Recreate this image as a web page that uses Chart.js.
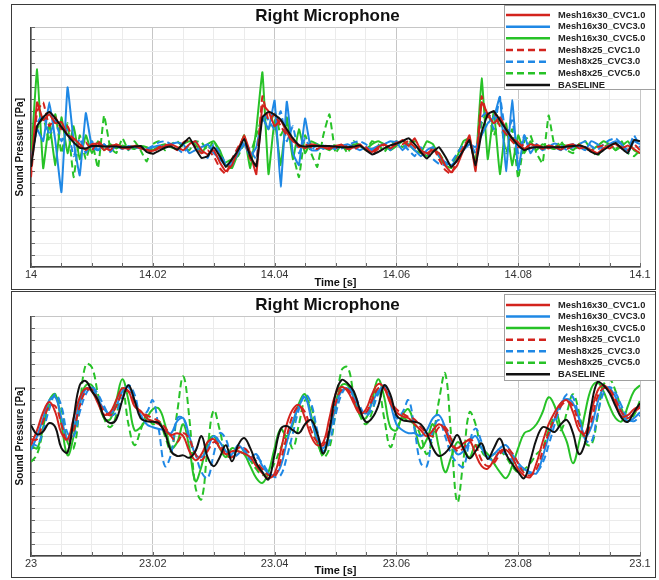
<!DOCTYPE html>
<html>
<head>
<meta charset="utf-8">
<script src="https://cdn.jsdelivr.net/npm/chart.js@4.4.1/dist/chart.umd.min.js"></script>
<style>
  body { margin: 0; background: #fff; }
  #wrap { position: relative; width: 659px; height: 580px; }
  .frame { position: absolute; border: 1px solid #3a3a3a; box-sizing: border-box; }
  canvas { position: absolute; }
</style>
</head>
<body>
<div id="wrap">
  <div class="frame" style="left:11px;top:4px;width:645px;height:286px"></div>
  <div class="frame" style="left:11px;top:291px;width:645px;height:287px"></div>
  <canvas id="topChart" width="643" height="283" style="left:12px;top:5px"></canvas>
  <canvas id="bottomChart" width="643" height="284" style="left:12px;top:292px"></canvas>
</div>
<script>
const FONT = '"Liberation Sans", Arial, Helvetica, sans-serif';

// series (same order in both panels)
const seriesNames = ['Mesh16x30_CVC1.0', 'Mesh16x30_CVC3.0', 'Mesh16x30_CVC5.0',
                     'Mesh8x25_CVC1.0', 'Mesh8x25_CVC3.0', 'Mesh8x25_CVC5.0', 'BASELINE'];
const seriesColors = ['#d3231d', '#1f88e5', '#27c227', '#d3231d', '#1f88e5', '#27c227', '#111111'];
const seriesDashed = [false, false, false, true, true, true, false];
const seriesOrder = [1, 3, 5, 2, 4, 6, 0];

// x tick labels
const topTickValues = [14, 14.02, 14.04, 14.06, 14.08, 14.1];
const topTickLabels = ['14', '14.02', '14.04', '14.06', '14.08', '14.1'];
const bottomTickValues = [23, 23.02, 23.04, 23.06, 23.08, 23.1];
const bottomTickLabels = ['23', '23.02', '23.04', '23.06', '23.08', '23.1'];
const yMajors = [-2, -1, 0, 1, 2];

// sample times (1 ms apart)
const topTimes = [];
const bottomTimes = [];
for (let i = 0; i <= 100; i++) {
    topTimes.push(+(14 + i * 0.001).toFixed(3));
    bottomTimes.push(+(23 + i * 0.001).toFixed(3));
}

// ---- top panel (14.0 - 14.1 s) ----
const topRed1 = [
    -0.4, 0.75, 0.45, 0.55, 0.4, 0.42, 0.2, 0.15, 0.05, -0.05,
    0.05, 0.06, -0.05, 0.02, 0.04, -0.02, 0.0, 0.02, -0.02, -0.05,
    -0.06, -0.02, 0.02, 0.05, 0.0, -0.05, 0.05, 0.1, -0.05, -0.12,
    -0.05, -0.25, -0.4, -0.3, -0.05, 0.2, -0.1, -0.45, 0.7, 0.6,
    0.35, 0.45, 0.25, 0.1, 0.04, -0.02, 0.05, 0.03, 0.0, -0.03,
    0.02, 0.04, -0.03, 0.0, 0.05, -0.05, -0.08, 0.0, 0.05, -0.02,
    0.05, 0.12, 0.02, 0.15, -0.05, -0.1, -0.05, -0.1, -0.3, -0.42,
    -0.3, -0.05, 0.2, -0.4, 0.75, 0.55, 0.4, 0.5, 0.3, 0.15,
    0.08, -0.03, 0.05, 0.02, -0.03, 0.03, 0.0, -0.04, 0.03, 0.05,
    -0.02, 0.0, -0.05, -0.1, -0.02, 0.03, 0.05, -0.02, 0.03, -0.03,
    -0.1];
const topBlue1 = [
    -0.2, 0.3, 0.1, 0.75, 0.1, -0.75, 1.0, 0.1, -0.47, 0.57,
    0.0, -0.05, 0.05, -0.05, 0.02, -0.03, 0.02, 0.0, -0.02, -0.04,
    0.0, 0.03, 0.0, 0.05, 0.08, 0.05, -0.1, -0.05, 0.0, 0.05,
    -0.1, -0.2, -0.3, -0.25, -0.1, 0.05, -0.15, 0.0, 0.5, 0.3,
    0.78, -0.66, 0.76, -0.1, -0.3, 0.48, -0.05, -0.05, 0.03, 0.0,
    -0.03, 0.02, 0.05, 0.0, -0.05, 0.0, -0.03, 0.02, 0.05, 0.1,
    0.08, -0.05, 0.05, -0.05, -0.15, -0.05, 0.0, -0.15, -0.25, -0.3,
    -0.2, -0.05, 0.05, 0.0, 0.2, 0.4, 0.5, 0.84, -0.4, 0.79,
    -0.38, 0.2, -0.1, 0.05, -0.05, 0.03, 0.0, -0.05, 0.02, 0.05,
    0.0, -0.05, 0.1, 0.05, -0.03, 0.05, 0.1, 0.05, -0.1, 0.1,
    0.05];
const topGreen1 = [
    -0.2, 1.3, -0.35, 0.4, -0.3, 0.5, -0.1, 0.35, -0.2, 0.2,
    -0.1, 0.1, -0.05, 0.05, -0.02, 0.03, 0.0, -0.03, 0.02, 0.0,
    -0.05, 0.02, 0.05, 0.0, -0.03, 0.05, 0.1, 0.05, -0.1, 0.05,
    0.1, -0.05, -0.3, -0.35, -0.1, 0.2, -0.35, 0.3, 1.25, -0.45,
    0.45, -0.3, 0.5, -0.2, 0.3, -0.1, 0.1, 0.05, 0.0, -0.05,
    0.03, 0.0, -0.03, 0.05, 0.02, -0.03, 0.05, 0.1, 0.05, -0.05,
    0.02, 0.1, 0.05, -0.05, -0.1, 0.1, 0.05, -0.15, -0.3, -0.35,
    -0.15, 0.1, 0.15, -0.3, 1.15, -0.2, 0.6, -0.45, 0.4, -0.3,
    0.2, -0.1, 0.1, -0.05, 0.05, 0.0, -0.03, 0.05, 0.02, -0.05,
    0.05, -0.02, -0.05, 0.02, 0.1, 0.05, -0.05, 0.02, 0.1, -0.05,
    -0.1];
const topRed2 = [
    -0.5, 0.6, 0.75, 0.35, 0.5, 0.3, 0.35, 0.1, 0.0, 0.08,
    -0.05, 0.1, 0.0, -0.05, 0.05, 0.0, -0.03, 0.03, 0.0, -0.04,
    -0.08, 0.0, 0.04, 0.02, -0.05, 0.08, 0.12, 0.0, -0.1, -0.05,
    -0.15, -0.35, -0.45, -0.2, 0.0, 0.15, -0.2, -0.3, 0.85, 0.45,
    0.55, 0.35, 0.2, 0.12, 0.0, 0.05, 0.0, -0.03, 0.04, 0.0,
    -0.02, 0.05, 0.0, -0.04, 0.02, 0.0, -0.1, -0.03, 0.04, 0.0,
    0.08, 0.05, 0.1, 0.0, -0.08, -0.15, 0.0, -0.2, -0.38, -0.45,
    -0.2, 0.0, 0.15, -0.3, 0.85, 0.5, 0.6, 0.35, 0.22, 0.1,
    0.0, 0.05, -0.02, 0.04, 0.0, -0.02, 0.03, 0.0, -0.03, 0.02,
    0.04, -0.02, -0.06, 0.0, 0.03, -0.02, 0.04, 0.0, -0.05, 0.05,
    -0.05];
const topBlue2 = [
    -0.3, 0.4, 0.55, 0.2, 0.45, 0.1, 0.3, -0.15, 0.15, -0.1,
    0.1, -0.05, 0.05, -0.08, 0.03, 0.0, -0.04, 0.03, 0.0, -0.03,
    0.02, 0.08, 0.1, 0.05, -0.02, -0.1, 0.05, 0.1, -0.05, -0.18,
    0.05, -0.1, -0.28, -0.3, -0.1, 0.1, -0.05, -0.2, 0.55, 0.45,
    0.3, 0.6, 0.1, 0.35, -0.1, 0.15, -0.05, 0.05, -0.03, 0.02,
    0.0, -0.02, 0.03, 0.08, 0.1, 0.05, -0.05, 0.0, 0.05, -0.05,
    0.1, 0.05, -0.05, -0.15, 0.0, -0.1, -0.2, -0.28, -0.3, -0.25,
    -0.1, 0.05, 0.1, -0.1, 0.5, 0.6, 0.3, 0.84, 0.2, 0.45,
    -0.1, 0.2, -0.05, 0.05, -0.02, 0.02, 0.06, 0.03, -0.05, 0.0,
    0.05, 0.1, 0.02, -0.05, 0.05, 0.12, 0.15, 0.05, -0.05, 0.2,
    0.0];
const topGreen2 = [
    -0.1, 0.3, 0.5, 0.1, 0.55, -0.1, 0.4, -0.5, 0.2, -0.2,
    0.1, -0.35, 0.53, 0.0, -0.1, 0.15, -0.05, 0.1, -0.05, -0.24,
    0.05, 0.1, -0.05, 0.05, 0.1, 0.0, -0.05, 0.1, 0.08, -0.05,
    0.1, -0.1, -0.25, -0.2, -0.15, 0.05, -0.1, 0.2, 0.5, 0.3,
    0.6, 0.2, 0.4, -0.1, -0.5, 0.2, -0.1, -0.33, 0.2, 0.55,
    -0.1, 0.05, -0.1, 0.1, 0.03, -0.05, 0.1, 0.05, -0.08, 0.05,
    0.1, 0.0, 0.08, 0.1, -0.05, -0.15, 0.0, -0.1, -0.25, -0.3,
    -0.1, 0.05, 0.1, -0.2, 0.4, 0.6, 0.2, 0.5, -0.1, 0.3,
    -0.52, 0.1, 0.2, -0.1, -0.27, 0.53, 0.0, 0.1, -0.05, -0.1,
    0.05, 0.1, -0.05, -0.15, 0.0, 0.05, -0.05, 0.1, -0.1, -0.15,
    -0.05];
const topBaseline = [
    -0.33, 0.35, 0.5, 0.59, 0.48, 0.34, 0.2, 0.08, -0.01, -0.02,
    0.02, 0.02, 0.01, 0.01, 0.01, 0.0, 0.0, 0.01, 0.02, -0.08,
    -0.11, -0.06, -0.01, 0.01, -0.04, 0.06, 0.16, -0.02, -0.18, -0.15,
    0.0, -0.15, -0.33, -0.2, -0.05, 0.14, -0.15, -0.32, 0.5, 0.59,
    0.54, 0.46, 0.3, 0.15, 0.03, 0.01, 0.02, 0.02, 0.02, 0.02,
    0.01, 0.0, 0.0, 0.01, 0.03, -0.05, -0.12, -0.08, -0.02, 0.03,
    0.06, 0.1, 0.15, 0.05, -0.08, -0.19, -0.08, 0.0, -0.15, -0.33,
    -0.22, -0.05, 0.12, -0.3, 0.25, 0.55, 0.6, 0.45, 0.3, 0.15,
    0.03, -0.05, -0.01, 0.0, 0.0, 0.0, 0.0, 0.0, 0.01, 0.02,
    0.03, 0.0, -0.08, -0.12, -0.05, 0.02, 0.07, -0.02, -0.1, 0.12,
    0.1];

// ---- bottom panel (23.0 - 23.1 s) ----
const bottomRed1 = [
    -0.15, 0.1, 0.4, 0.57, 0.4, 0.05, -0.05, 0.3, 0.65, 0.8,
    0.75, 0.55, 0.36, 0.4, 0.6, 0.8, 0.75, 0.5, 0.42, 0.3,
    0.25, 0.2, 0.1, 0.02, 0.05, 0.0, -0.25, -0.4, -0.3, -0.1,
    -0.05, -0.2, -0.3, -0.25, -0.25, -0.29, -0.35, -0.5, -0.62, -0.7,
    -0.62, -0.25, 0.2, 0.45, 0.52, 0.3, 0.0, -0.15, -0.1, 0.3,
    0.7, 0.82, 0.75, 0.55, 0.38, 0.45, 0.7, 0.87, 0.8, 0.55,
    0.4, 0.33, 0.3, 0.2, 0.1, 0.0, 0.1, 0.2, 0.1, -0.15,
    -0.2, -0.12, -0.07, -0.3, -0.5, -0.54, -0.4, -0.25, -0.23, -0.35,
    -0.55, -0.66, -0.68, -0.45, -0.1, 0.2, 0.4, 0.55, 0.6, 0.4,
    0.1, 0.05, 0.4, 0.75, 0.85, 0.75, 0.55, 0.33, 0.35, 0.45,
    0.5];
const bottomBlue1 = [
    -0.23, 0.0, 0.3, 0.6, 0.65, 0.3, -0.05, 0.15, 0.55, 0.78,
    0.8, 0.62, 0.45, 0.38, 0.5, 0.75, 0.82, 0.6, 0.35, 0.2,
    0.15, 0.12, 0.1, 0.05, 0.25, 0.3, 0.0, -0.3, -0.35, -0.2,
    0.0, -0.1, -0.25, -0.3, -0.15, -0.25, -0.35, -0.3, -0.5, -0.62,
    -0.65, -0.5, -0.1, 0.25, 0.5, 0.65, 0.3, -0.05, -0.2, 0.05,
    0.5, 0.75, 0.8, 0.65, 0.45, 0.38, 0.55, 0.75, 0.82, 0.55,
    0.2, 0.1, 0.05, 0.05, 0.0, 0.1, 0.3, 0.35, 0.15, -0.1,
    -0.3, -0.25, -0.1, 0.0, -0.2, -0.35, -0.3, -0.2, -0.15, -0.3,
    -0.45, -0.55, -0.6, -0.62, -0.35, 0.0, 0.3, 0.55, 0.62, 0.55,
    0.3, 0.0, 0.15, 0.55, 0.8, 0.8, 0.65, 0.4, 0.25, 0.3,
    0.4];
const bottomGreen1 = [
    -0.15, -0.2, 0.15, 0.6, 0.7, 0.2, -0.32, 0.0, 0.6, 0.85,
    0.85, 0.6, 0.3, 0.28, 0.6, 0.95, 0.6, 0.1, 0.15, 0.3,
    0.45, 0.46, 0.2, -0.2, -0.1, 0.2, -0.2, -0.75, -0.5, -0.1,
    0.0, -0.2, -0.35, -0.2, -0.25, -0.3, -0.5, -0.7, -0.78, -0.6,
    -0.2, 0.12, 0.0, 0.2, 0.55, 0.7, 0.35, -0.1, -0.3, 0.05,
    0.5, 0.85, 0.85, 0.65, 0.35, 0.3, 0.6, 0.95, 0.65, 0.15,
    0.1, 0.35, 0.45, 0.15, -0.2, -0.05, 0.2, -0.2, -0.6, -0.35,
    -0.1, -0.2, -0.35, -0.15, -0.2, -0.3, -0.45, -0.6, -0.7, -0.5,
    -0.2, 0.05, 0.1, 0.2, 0.4, 0.65, 0.5, 0.15, -0.1, -0.45,
    -0.1, 0.4, 0.8, 0.9, 0.75, 0.5, 0.3, 0.25, 0.5, 0.75,
    0.85];
const bottomRed2 = [
    -0.05, -0.05, 0.25, 0.5, 0.5, 0.2, -0.1, 0.1, 0.5, 0.75,
    0.78, 0.6, 0.42, 0.35, 0.5, 0.72, 0.75, 0.55, 0.4, 0.35,
    0.3, 0.25, 0.15, 0.0, -0.1, 0.05, -0.05, -0.3, -0.4, -0.25,
    -0.1, -0.15, -0.3, -0.35, -0.2, -0.2, -0.3, -0.42, -0.55, -0.65,
    -0.68, -0.4, 0.0, 0.35, 0.5, 0.4, 0.1, -0.1, -0.15, 0.15,
    0.55, 0.78, 0.78, 0.6, 0.42, 0.4, 0.6, 0.8, 0.8, 0.6,
    0.45, 0.38, 0.32, 0.28, 0.15, 0.05, 0.0, 0.15, 0.15, -0.05,
    -0.25, -0.2, -0.05, -0.15, -0.4, -0.5, -0.45, -0.3, -0.2, -0.28,
    -0.45, -0.62, -0.65, -0.55, -0.25, 0.05, 0.3, 0.5, 0.58, 0.5,
    0.2, 0.0, 0.25, 0.65, 0.8, 0.78, 0.6, 0.4, 0.3, 0.4,
    0.48];
const bottomBlue2 = [
    -0.1, -0.15, 0.1, 0.45, 0.7, 0.5, 0.05, 0.0, 0.4, 0.7,
    0.82, 0.7, 0.5, 0.35, 0.4, 0.65, 0.85, 0.7, 0.35, 0.4,
    0.6, 0.1, -0.5, -0.3, 0.3, 0.3, -0.05, -0.3, -0.6, -0.7,
    -0.3, 0.05, -0.05, -0.35, -0.3, -0.2, -0.4, -0.35, -0.45, -0.6,
    -0.68, -0.65, -0.35, 0.05, 0.45, 0.7, 0.55, 0.1, -0.25, -0.1,
    0.35, 0.7, 0.82, 0.72, 0.5, 0.35, 0.45, 0.7, 0.85, 0.65,
    0.3, 0.4, 0.6, 0.1, -0.45, -0.5, 0.1, 0.27, 0.0, -0.3,
    -0.45, -0.51, -0.1, 0.13, -0.1, -0.35, -0.4, -0.25, -0.3, -0.4,
    -0.5, -0.6, -0.62, -0.6, -0.45, -0.15, 0.2, 0.5, 0.7, 0.65,
    0.3, -0.05, -0.1, 0.35, 0.72, 0.82, 0.72, 0.5, 0.3, 0.25,
    0.35];
const bottomGreen2 = [
    -0.43, -0.3, 0.1, 0.5, 0.7, 0.45, -0.1, -0.2, 0.5, 1.2,
    1.15, 0.7, 0.3, 0.15, 0.35, 0.8, 0.2, -0.15, 0.1, 0.35,
    0.2, 0.25, 0.0, -0.25, 0.4, 1.0, 0.3, -0.85, -1.05, -0.2,
    0.43, 0.1, -0.3, -0.35, -0.2, -0.25, -0.4, -0.55, -0.65, -0.6,
    -0.45, -0.2, 0.0, -0.2, 0.2, 0.6, 0.5, 0.0, -0.35, -0.2,
    0.4, 1.1, 1.15, 0.7, 0.35, 0.2, 0.4, 0.8, 0.3, -0.18,
    0.1, 0.3, 0.25, 0.2, 0.0, -0.3, 0.0, 0.6, 1.05, 0.0,
    -1.1, -0.4, 0.4, 0.2, -0.25, -0.35, -0.3, -0.25, -0.35, -0.5,
    -0.6, -0.55, -0.45, -0.3, -0.2, 0.1, 0.3, 0.1, 0.4, 0.7,
    0.4, -0.1, -0.15, 0.3, 0.85, 0.95, 0.75, 0.45, 0.25, 0.35,
    0.6];
const bottomBaseline = [
    0.18, 0.03, 0.08, 0.22, 0.15, -0.2, -0.27, 0.3, 0.85, 0.92,
    0.75, 0.6, 0.32, 0.22, 0.28, 0.6, 0.85, 0.6, 0.3, 0.25,
    0.24, 0.22, 0.05, -0.25, -0.33, -0.32, -0.36, -0.25, 0.0, -0.35,
    -0.5, -0.35, -0.15, -0.42, -0.15, -0.03, -0.2, -0.45, -0.6, -0.72,
    -0.3, 0.12, 0.17, 0.1, 0.05, 0.2, 0.27, 0.05, -0.29, 0.1,
    0.7, 0.94, 0.88, 0.75, 0.45, 0.24, 0.3, 0.5, 0.85, 0.7,
    0.35, 0.27, 0.25, 0.24, 0.2, 0.05, -0.2, -0.33, -0.28, -0.15,
    0.02, -0.2, -0.37, -0.25, -0.12, -0.38, -0.2, -0.04, -0.3, -0.46,
    -0.6, -0.7, -0.4, -0.05, 0.15, 0.12, 0.07, 0.2, 0.27, 0.05,
    -0.3, -0.1, 0.5, 0.9, 0.85, 0.72, 0.5, 0.3, 0.24, 0.4,
    0.55];

const MAJOR_GRID = '#c6c6c6';
const MINOR_GRID = '#ebebeb';

// short inward tick marks on the left and bottom axes
const innerTicks = {
    id: 'innerTicks',
    beforeDatasetsDraw(chart) {
        const { ctx, chartArea: a, scales: { x, y } } = chart;
        ctx.save();
        ctx.strokeStyle = '#666';
        ctx.lineWidth = 1;
        ctx.beginPath();
        x.ticks.forEach(t => {
            const px = Math.round(x.getPixelForValue(t.value)) + 0.5;
            ctx.moveTo(px, a.bottom);
            ctx.lineTo(px, a.bottom - 4);
        });
        y.ticks.forEach(t => {
            const py = Math.round(y.getPixelForValue(t.value)) + 0.5;
            ctx.moveTo(a.left, py);
            ctx.lineTo(a.left + 4, py);
        });
        ctx.stroke();
        ctx.restore();
    }
};

// boxed legend in the top right corner
const boxLegend = {
    id: 'boxLegend',
    afterDraw(chart, args, o) {
        const ctx = chart.ctx;
        const left = chart.width - o.width;
        ctx.save();
        ctx.fillStyle = '#fff';
        ctx.fillRect(left, o.top, o.width, o.height);
        ctx.strokeStyle = '#a0a0a0';
        ctx.lineWidth = 1;
        ctx.strokeRect(left + 0.5, o.top + 0.5, o.width, o.height - 1);
        ctx.font = 'bold 9.3px ' + FONT;
        ctx.textBaseline = 'middle';
        seriesNames.forEach((name, k) => {
            const yy = o.top + o.firstRow + k * o.rowGap;
            ctx.beginPath();
            ctx.strokeStyle = seriesColors[k];
            ctx.lineWidth = 2.5;
            ctx.setLineDash(seriesDashed[k] ? [7, 4] : []);
            ctx.moveTo(left + 2, yy);
            ctx.lineTo(left + 46, yy);
            ctx.stroke();
            ctx.setLineDash([]);
            ctx.fillStyle = '#222';
            ctx.fillText(name, left + 54, yy);
        });
        ctx.restore();
    }
};

function buildDatasets(times, seriesList, tension) {
    return seriesList.map((vals, k) => ({
        label: seriesNames[k],
        data: vals.map((v, i) => ({ x: times[i], y: v })),
        borderColor: seriesColors[k],
        borderWidth: 2,
        borderDash: seriesDashed[k] ? [7, 4] : [],
        pointRadius: 0,
        fill: false,
        tension: tension,
        order: seriesOrder[k]
    }));
}

function makeChart(id, times, seriesList, tickValues, tickLabels, p) {
    const near = (arr, v) => arr.findIndex(m => Math.abs(m - v) < 1e-6);
    return new Chart(document.getElementById(id), {
        type: 'line',
        data: { datasets: buildDatasets(times, seriesList, p.tension) },
        options: {
            responsive: false,
            animation: false,
            devicePixelRatio: 1,
            layout: { padding: { left: 3, right: 15, top: 0, bottom: 0 } },
            plugins: {
                legend: { display: false },
                tooltip: { enabled: false },
                title: {
                    display: true,
                    text: 'Right Microphone',
                    color: '#111',
                    font: { family: FONT, size: 17, weight: 'bold', lineHeight: 1.2 },
                    padding: { top: p.titleTop, bottom: 1 }
                },
                boxLegend: p.legend
            },
            scales: {
                x: {
                    type: 'linear',
                    min: tickValues[0],
                    max: tickValues[tickValues.length - 1],
                    ticks: {
                        stepSize: 0.005,
                        autoSkip: false,
                        maxRotation: 0,
                        padding: 1,
                        color: '#333',
                        font: { family: FONT, size: 11 },
                        callback: v => {
                            const k = near(tickValues, v);
                            return k >= 0 ? tickLabels[k] : '';
                        }
                    },
                    grid: {
                        drawTicks: false,
                        lineWidth: 1,
                        color: c => (c.tick && near(tickValues, c.tick.value) >= 0) ? MAJOR_GRID : MINOR_GRID
                    },
                    border: { color: '#444', width: 1.5 },
                    title: {
                        display: true,
                        text: 'Time [s]',
                        color: '#111',
                        font: { family: FONT, size: 11, weight: 'bold', lineHeight: 1 },
                        padding: 0
                    },
                    afterFit: s => { s.height = p.xAxisHeight; }
                },
                y: {
                    min: -2,
                    max: 2,
                    ticks: { display: false, stepSize: 0.2 },
                    grid: {
                        drawTicks: false,
                        lineWidth: 1,
                        color: c => (c.tick && near(yMajors, c.tick.value) >= 0) ? MAJOR_GRID : MINOR_GRID
                    },
                    border: { color: '#444', width: 1.5 },
                    title: {
                        display: true,
                        text: 'Sound Pressure [Pa]',
                        color: '#111',
                        font: { family: FONT, size: 10, weight: 'bold', lineHeight: 1 },
                        padding: 0
                    },
                    afterFit: s => { s.width = 16; }
                }
            }
        },
        plugins: [innerTicks, boxLegend]
    });
}

makeChart('topChart', topTimes,
    [topRed1, topBlue1, topGreen1, topRed2, topBlue2, topGreen2, topBaseline],
    topTickValues, topTickLabels,
    { tension: 0.1, titleTop: 1, xAxisHeight: 21,
      legend: { width: 151, top: 0, height: 85, firstRow: 10, rowGap: 11.67 } });

makeChart('bottomChart', bottomTimes,
    [bottomRed1, bottomBlue1, bottomGreen1, bottomRed2, bottomBlue2, bottomGreen2, bottomBaseline],
    bottomTickValues, bottomTickLabels,
    { tension: 0.4, titleTop: 3, xAxisHeight: 20,
      legend: { width: 151, top: 2, height: 87, firstRow: 11, rowGap: 11.55 } });
</script>
</body>
</html>
